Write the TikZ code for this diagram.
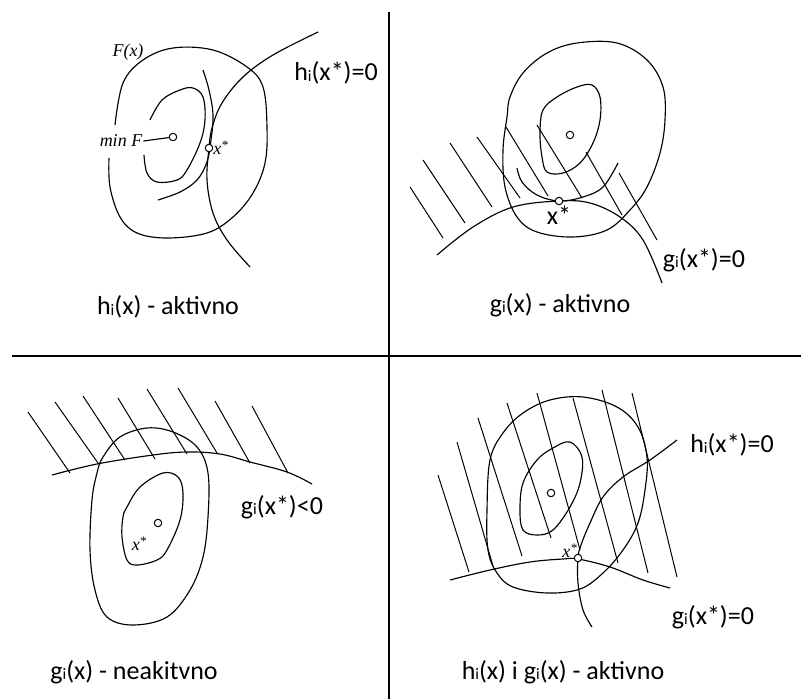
\documentclass[tikz,border=0pt]{standalone}
\usepackage{fontspec}
\setsansfont{Carlito}
\newfontfamily\tms{Liberation Serif}
\usetikzlibrary{positioning,calc}

\newcommand{\lab}{\fontsize{26}{30}\selectfont\sffamily}
\newcommand{\sub}[1]{\raisebox{-0.5pt}{\fontsize{16}{16}\selectfont #1}}
\newcommand{\xst}{x\raisebox{5pt}{\fontsize{13}{13}\selectfont *}}

\tikzset{
  curve/.style={line width=1.15pt, line join=round},
  hatch/.style={line width=1pt},
  frame/.style={line width=2.8pt},
  dot/.style={circle, draw, line width=1pt, fill=white, inner sep=0pt, minimum size=7.5pt},
  txt/.style={inner sep=1pt, font=\lab},
  itx/.style={inner sep=1pt, font=\fontsize{18}{20}\selectfont\tms\itshape}
}

\begin{document}
\begin{tikzpicture}[x=1pt, y=-1pt]
    \useasboundingbox (0,0) rectangle (801,699);
    % ---- frame
    \draw[frame] (389,12) -- (389,699);
    \draw[frame] (12,356) -- (801,356);

    % ---- top left : h active
    \draw[curve] plot[smooth, tension=0.6] coordinates {(109,158) (110,187) (120,217) (137,233) (167,238) (207,233) (233,217) (253,193) (265,163) (267,127) (263,87) (247,67) (213,50) (173,48) (143,60) (123,83) (115,125)};
    \draw[curve] plot[smooth, tension=0.6] coordinates {(144,155) (147,173) (157,182) (177,180) (187,170) (200,143) (205,120) (203,97) (193,88) (180,90) (162,100) (150,120)};
    \draw[curve] plot[smooth, tension=0.6] coordinates {(203,70) (209,90) (213,115) (211,140) (207,162) (197,180) (180,192) (158,200)};
    \draw[curve] plot[smooth, tension=0.6] coordinates {(318,32) (273,55) (243,77) (222,103) (212,128) (209,148) (207,180) (213,213) (227,240) (250,267)};
    \node[dot] (m1) at (173,137) {};
    \node[dot] (x1) at (209,148) {};
    \node[itx] (f1) at (128,52) {F(x)};
    \node[itx] (mf1) at (121,141) {min F};
    \draw[curve] (mf1.east) -- (m1);
    \node[itx, right=-1pt of x1] (xl1) {\xst};
    \node[txt] (h1) at (336,73) {h\sub{i}(x*)=0};
    \node[txt] (t1) at (168,307) {h\sub{i}(x) - aktivno};

    % ---- top right : g active
    \draw[curve] plot[smooth cycle, tension=0.6] coordinates {(510,97) (523,73) (547,53) (577,43) (617,43) (647,60) (663,87) (665,120) (660,153) (647,187) (630,210) (607,230) (573,237) (537,232) (517,217) (505,187) (503,150) (507,117)};
    \draw[curve] plot[smooth cycle, tension=0.6] coordinates {(543,110) (557,97) (577,87) (592,85) (600,97) (600,120) (593,143) (580,163) (563,173) (547,172) (542,157) (540,133)};
    \draw[curve] plot[smooth, tension=0.6] coordinates {(517,168) (522,182) (537,195) (559,201) (583,197) (603,187) (618,163)};
    \draw[curve] plot[smooth, tension=0.6] coordinates {(437,255) (473,227) (513,207) (559,201) (590,203) (620,217) (643,240) (662,283)};
    \foreach \xa/\ya/\xb/\yb in {410/187/443/238, 423/160/465/223, 450/143/492/207, 477/137/520/198,
        506/127/548/196, 537/125/582/198, 586/152/622/215, 619/173/657/240}
      { \draw[hatch] (\xa,\ya) -- (\xb,\yb); }
    \node[dot] (m2) at (570,135) {};
    \node[dot] (x2) at (559,201) {};
    \node[txt, below=0pt of x2] (xl2) {x*};
    \node[txt] (g2) at (704,260) {g\sub{i}(x*)=0};
    \node[txt] (t2) at (560,305) {g\sub{i}(x) - aktivno};

    % ---- bottom left : g inactive
    \draw[curve] plot[smooth cycle, tension=0.6] coordinates {(103,457) (120,437) (147,428) (173,432) (197,447) (208,473) (208,517) (203,557) (190,590) (167,617) (133,625) (107,617) (95,590) (90,550) (92,500) (97,473)};
    \draw[curve] plot[smooth cycle, tension=0.6] coordinates {(127,507) (140,487) (163,473) (178,477) (183,493) (180,520) (167,550) (157,560) (137,565) (127,560) (122,537) (123,517)};
    \draw[curve] plot[smooth, tension=0.6] coordinates {(52,475) (97,464) (153,455) (187,452) (220,454) (250,462) (287,472) (312,484)};
    \foreach \xa/\ya/\xb/\yb in {28/412/70/473, 55/402/98/463, 83/396/125/460, 118/398/155/459,
        147/389/187/454, 178/388/217/453, 215/401/250/463, 252/406/288/473}
      { \draw[hatch] (\xa,\ya) -- (\xb,\yb); }
    \node[dot] (m3) at (158,523) {};
    \node[itx] (xl3) at (139,544) {\xst};
    \node[txt] (g3) at (282,507) {g\sub{i}(x*)<0};
    \node[txt] (t3) at (134,672) {g\sub{i}(x) - neakitvno};

    % ---- bottom right : h and g active
    \draw[curve] plot[smooth cycle, tension=0.6] coordinates {(490,460) (503,433) (523,413) (550,400) (583,397) (617,407) (638,427) (647,457) (645,490) (638,523) (623,550) (603,573) (580,589) (547,593) (513,587) (497,573) (488,550) (487,510)};
    \draw[curve] plot[smooth cycle, tension=0.6] coordinates {(523,483) (537,460) (553,448) (570,442) (582,457) (580,483) (570,507) (553,530) (537,535) (523,530) (520,510)};
    \draw[curve] plot[smooth, tension=0.6] coordinates {(677,440) (650,460) (623,477) (603,497) (590,523) (581,545) (578,558) (578,583) (583,610) (592,627)};
    \draw[curve] plot[smooth, tension=0.6] coordinates {(450,580) (490,570) (530,562) (563,559) (578,559) (610,567) (643,580) (670,588)};
    \foreach \xa/\ya/\xb/\yb in {438/475/469/572, 457/442/493/566, 478/418/522/556, 507/403/551/538,
        537/393/580/550, 573/398/618/563, 602/390/648/573, 632/393/677/577}
      { \draw[hatch] (\xa,\ya) -- (\xb,\yb); }
    \node[dot] (m4) at (551,493) {};
    \node[dot] (x4) at (578,558) {};
    \node[itx, above left=-4pt and -3pt of x4] (xl4) {\xst};
    \node[txt] (h4) at (732,445) {h\sub{i}(x*)=0};
    \node[txt] (g4) at (713,617) {g\sub{i}(x*)=0};
    \node[txt] (t4) at (563,672) {h\sub{i}(x) i g\sub{i}(x) - aktivno};
\end{tikzpicture}
\end{document}
